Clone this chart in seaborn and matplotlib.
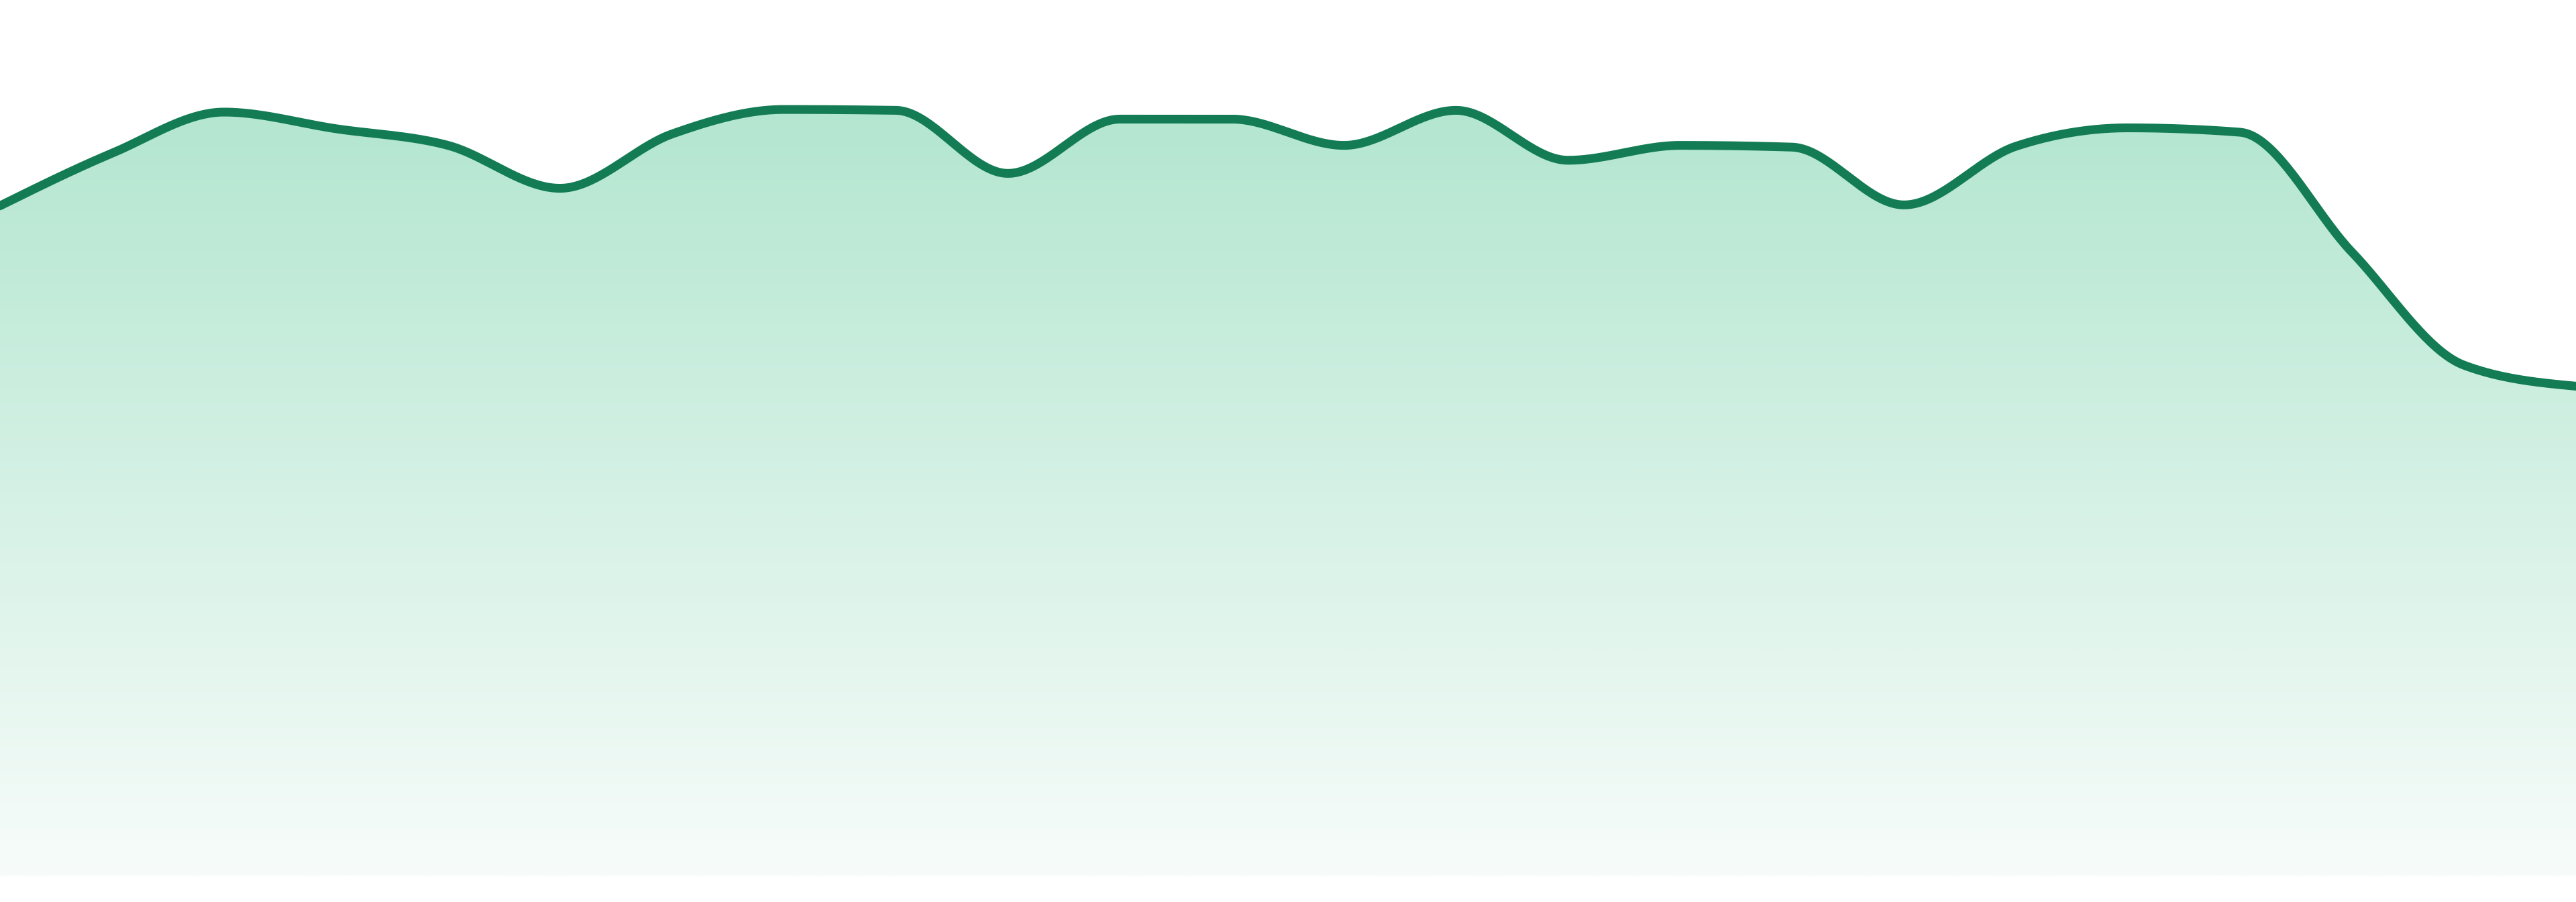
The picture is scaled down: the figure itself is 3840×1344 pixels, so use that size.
import numpy as np
import pandas as pd
import matplotlib
matplotlib.use("Agg")
import matplotlib.pyplot as plt
import seaborn as sns
from matplotlib.colors import LinearSegmentedColormap

# values (share of the plot height, 0..100)
periods = list(range(24))
values = [76.5, 82.5, 87.2, 85.3, 83.4, 78.5, 84.7, 87.5, 87.4, 80.2,
          86.4, 86.4, 83.4, 87.4, 81.7, 83.4, 83.2, 76.6, 83.3, 85.4,
          84.9, 71.2, 58.3, 55.9]

line_color = "#137c54"
fill_top = "#b3e6d0"
fill_bottom = "#f7fcfa"


def monotone_curve(x, y, steps=40):
    """Monotone cubic curve through the points (like d3.curveMonotoneX)."""
    x = np.asarray(x, float)
    y = np.asarray(y, float)
    h = np.diff(x)
    s = np.diff(y) / h
    t = np.zeros_like(y)
    for i in range(1, len(y) - 1):
        p = (s[i - 1] * h[i] + s[i] * h[i - 1]) / (h[i - 1] + h[i])
        t[i] = (np.sign(s[i - 1]) + np.sign(s[i])) * min(abs(s[i - 1]), abs(s[i]), 0.5 * abs(p))
    t[0] = (3 * s[0] - t[1]) / 2
    t[-1] = (3 * s[-1] - t[-2]) / 2
    xs, ys = [], []
    for i in range(len(h)):
        u = np.linspace(0, 1, steps, endpoint=False)
        h00 = 2 * u**3 - 3 * u**2 + 1
        h10 = u**3 - 2 * u**2 + u
        h01 = -2 * u**3 + 3 * u**2
        h11 = u**3 - u**2
        xs.append(x[i] + u * h[i])
        ys.append(h00 * y[i] + h10 * h[i] * t[i] + h01 * y[i + 1] + h11 * h[i] * t[i + 1])
    xs.append([x[-1]])
    ys.append([y[-1]])
    return np.concatenate(xs), np.concatenate(ys)


cx, cy = monotone_curve(periods, values)
curve = pd.DataFrame({"period": cx, "value": cy})

sns.set_theme(style="white")
fig = plt.figure(figsize=(38.4, 13.44), dpi=100)
ax = fig.add_axes([0, 0, 1, 1])

x0, x1 = periods[0], periods[-1]
y_lo, y_hi = -3, 100

# gradient area under the curve
area = ax.fill_between(curve["period"], curve["value"], 0, color="none", lw=0)
top = max(values)
cmap = LinearSegmentedColormap.from_list("mint", [fill_bottom, fill_top])
grad = np.linspace(0, 1, 512).reshape(-1, 1)
img = ax.imshow(grad, cmap=cmap, aspect="auto", origin="lower",
                extent=[x0, x1, 0, top], zorder=1)
img.set_clip_path(area.get_paths()[0], transform=ax.transData)

sns.lineplot(data=curve, x="period", y="value", color=line_color,
             linewidth=9.4, ax=ax, zorder=3, sort=False)

ax.set_xlim(x0, x1)
ax.set_ylim(y_lo, y_hi)
ax.axis("off")

fig.savefig("out.png", dpi=100)
